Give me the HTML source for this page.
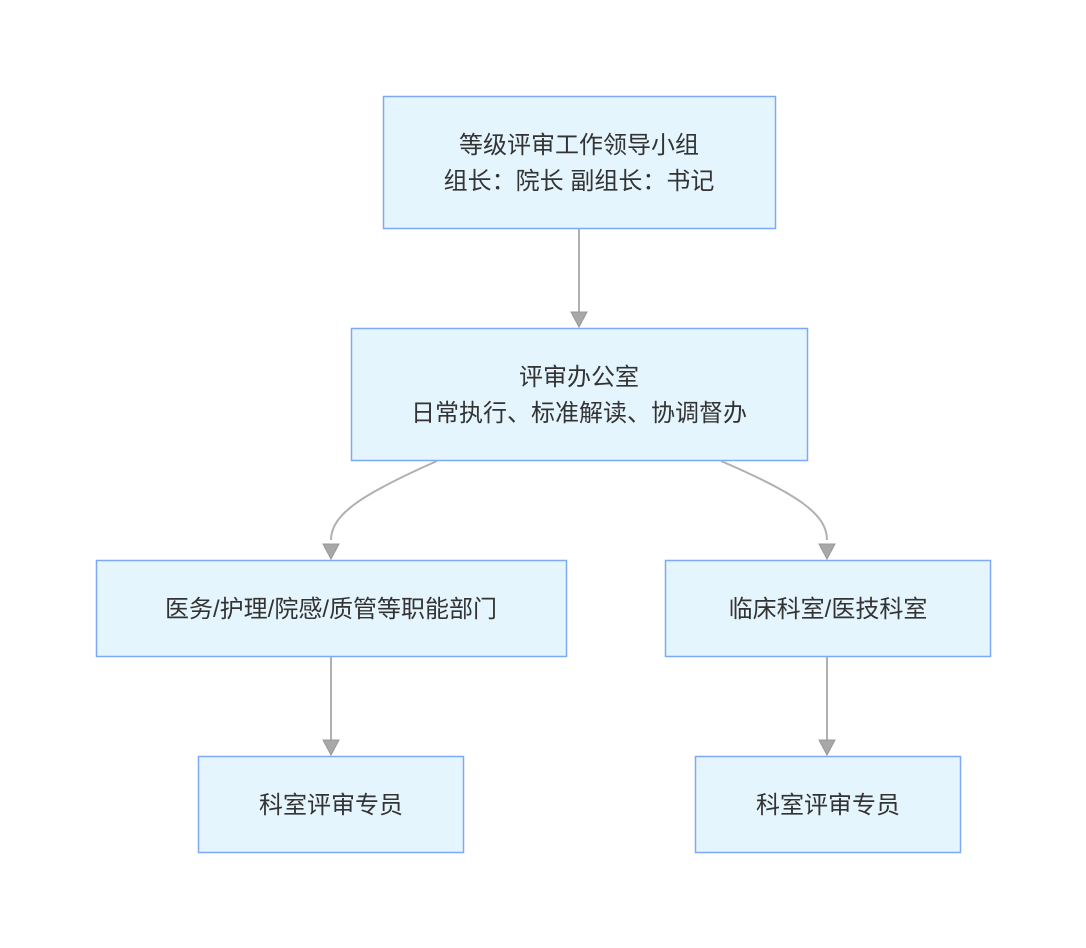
<!DOCTYPE html>
<html><head><meta charset="utf-8"><style>
html,body{margin:0;padding:0;background:#fff;}
svg{display:block;}
text{font-family:"Liberation Sans","Noto Sans CJK SC",sans-serif;font-size:24px;fill:#333;text-anchor:middle;}
</style></head><body>
<svg width="1086" height="948" viewBox="0 0 1086 948" xmlns="http://www.w3.org/2000/svg">
<g fill="#e5f5fd" stroke="#7eaaf5" stroke-width="1.5">
<rect x="383.5" y="96.5" width="392" height="132"/>
<rect x="351.5" y="328.5" width="456" height="132"/>
<rect x="96.5" y="560.5" width="470" height="96"/>
<rect x="665.5" y="560.5" width="325" height="96"/>
<rect x="198.5" y="756.5" width="265" height="96"/>
<rect x="695.5" y="756.5" width="265" height="96"/>
</g>
<g fill="none" stroke="#b0b0b0" stroke-width="2">
<path d="M579,229 L579,312"/>
<path d="M437,461 C360,495 331,515 331,540"/>
<path d="M721,461 C800,495 827,515 827,540"/>
<path d="M331,657 L331,740"/>
<path d="M827,657 L827,740"/>
</g>
<g fill="#a8a8a8" stroke="#999" stroke-width="1">
<path d="M571,312 L587,312 L579,327 Z"/>
<path d="M323,544 L339,544 L331,559 Z"/>
<path d="M819,544 L835,544 L827,559 Z"/>
<path d="M323,740 L339,740 L331,755 Z"/>
<path d="M819,740 L835,740 L827,755 Z"/>
</g>
<text x="579" y="153">等级评审工作领导小组</text>
<text x="579" y="189">组长：院长 副组长：书记</text>
<text x="579" y="385">评审办公室</text>
<text x="579" y="421">日常执行、标准解读、协调督办</text>
<text x="331" y="617">医务/护理/院感/质管等职能部门</text>
<text x="828" y="617">临床科室/医技科室</text>
<text x="331" y="813">科室评审专员</text>
<text x="828" y="813">科室评审专员</text>
</svg>
</body></html>
